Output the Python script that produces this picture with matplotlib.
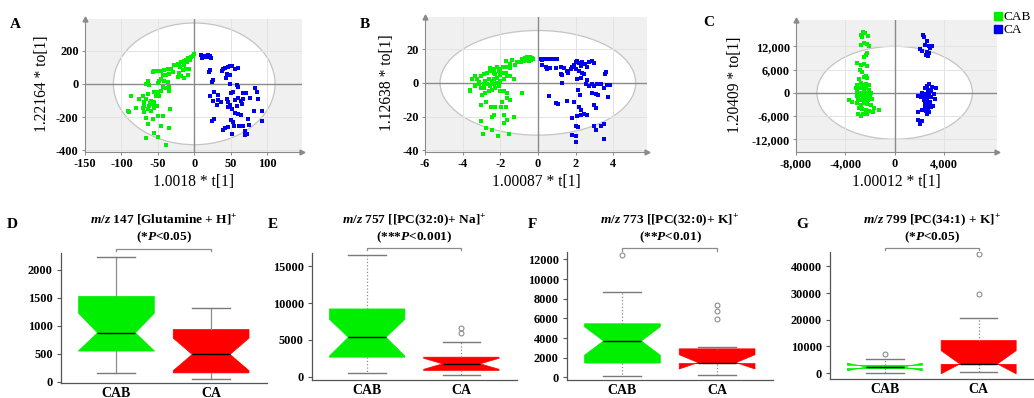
import numpy as np
import matplotlib
matplotlib.use('Agg')
import matplotlib.pyplot as plt
from matplotlib.patches import Ellipse
from matplotlib.lines import Line2D
from matplotlib.ticker import FuncFormatter

plt.rcParams['font.family'] = ['Liberation Serif', 'DejaVu Serif']
plt.rcParams['font.weight'] = 'bold'
plt.rcParams['axes.unicode_minus'] = False
plt.rcParams['mathtext.fontset'] = 'custom'
plt.rcParams['mathtext.rm'] = 'Liberation Serif:bold'
plt.rcParams['mathtext.it'] = 'Liberation Serif:italic:bold'
plt.rcParams['mathtext.bf'] = 'Liberation Serif:bold'

GREEN = '#00ee00'
BLUE = '#0000ee'
RED = '#ff0000'

# ---- score plots (t[1], to[1]) ----
a_cab = np.array([
    (0, 177), (-2.3, 169), (-4.6, 163), (-6.9, 157), (-9.2, 153), (-11.5, 143), (-13.7, 137),
    (-16, 133), (-18.3, 129), (-20.6, 122), (-22.9, 118), (-25.2, 116), (-27.5, 112), (-5.5, 143),
    (-10, 129), (-14.7, 112), (-19.2, 102), (-11.5, 92), (-6.9, 88), (-16, 82), (-20.6, 67),
    (-18.3, 47), (-13.7, 35), (-22.9, 41), (-9.2, 55), (-32, 92), (-36.6, 88), (-41.2, 82),
    (-45.8, 75), (-50.4, 75), (-55, 75), (-57.3, 71), (-43.5, 51), (-39, 55), (-34.4, 61),
    (-29.8, 71), (-45.8, 31), (-48, 20), (-41.2, 20), (-36.6, 10), (-50.4, 6), (-64, 20),
    (-66.4, 0), (-61.8, -10), (-43.5, -20), (-45.8, -41), (-39, -27), (-34.4, -20), (-34.4, -41),
    (-50.4, -47), (-55, -51), (-52.7, -71), (-48, -71), (-64, -61), (-71, -75), (-66.4, -92),
    (-59.5, -102), (-57.3, -122), (-61.8, -133), (-68.7, -133), (-71, -143), (-64, -153),
    (-55, -143), (-59.5, -163), (-68.7, -169), (-87, -71), (-80, -143), (-91.6, -163),
    (-89.3, -169), (-50.4, -194), (-43.5, -194), (-66.4, -204), (-57.3, -214), (-64, -239),
    (-45.8, -251), (-34.4, -265), (-55, -296), (-50.4, -320), (-66.4, -326), (-39, -367),
    (-33, -153), (-75.6, -92), (-51.3, -133), (-55.9, -108), (-60.5, -116), (-68.7, -112)])
a_ca = np.array([
    (9.2, 173), (12.4, 169), (15.6, 167), (19.2, 163), (22.9, 157), (10.1, 157), (14.7, 161),
    (18.3, 173), (21.5, 165), (21.5, 82), (20.2, 71), (26.1, 24), (23.8, 10), (27.5, -51),
    (21.5, -71), (26.1, -102), (30.7, -129), (27.5, -214), (24.7, -224), (39.8, 92), (42.1, 96),
    (45.8, 102), (49, 108), (52.2, 106), (55.9, 92), (59.5, 96), (38.5, 75), (44.4, 61), (49, 55),
    (43, 35), (49, 0), (58.2, -6), (60.5, -20), (53.6, -47), (50.4, -55), (67.3, -55), (70.5, -55),
    (83.4, -27), (85.6, -51), (76.5, -88), (87, -92), (33, -67), (32, -96), (36.6, -112),
    (30.7, -126), (44.4, -92), (46.7, -112), (49, -129), (51.3, -149), (45.8, -137), (55.9, -96),
    (59.5, -88), (64.1, -102), (67.3, -92), (65, -122), (58.2, -133), (55.9, -173), (60.5, -184),
    (64.1, -186), (74.2, -210), (82.4, -163), (93.4, -163), (93.4, -224), (50.4, -218),
    (53.6, -231), (55, -251), (61.4, -251), (67.3, -255), (75.1, -245), (69.6, -286),
    (71.9, -300), (42.1, -265), (39.8, -280), (46.7, -259), (52.2, -300), (69.6, -306)])

b_cab = np.array([
    (-0.83, 14.1), (-0.71, 14.7), (-0.57, 15.2), (-0.43, 15.2), (-0.30, 14.7), (-0.25, 14.1),
    (-0.60, 13.5), (-0.48, 13.1), (-0.75, 12.7), (-0.89, 12.1), (-0.39, 13.7), (-0.66, 14.1),
    (-1.10, 12.1), (-1.19, 10.7), (-1.46, 11.1), (-1.72, 13.1), (-1.37, 13.5), (-1.63, 9.5),
    (-1.46, 8.7), (-1.85, 9.1), (-2.02, 8.1), (-2.17, 9.1), (-2.34, 8.1), (-2.56, 8.7),
    (-2.70, 6.1), (-2.84, 5.1), (-3.02, 4.0), (-3.32, 4.0), (-3.50, 2.0), (-3.59, -4.0),
    (-3.62, -5.1), (-2.52, 7.1), (-2.34, 6.1), (-2.26, 5.1), (-2.08, 7.1), (-1.90, 6.1),
    (-1.99, 4.6), (-1.72, 6.1), (-1.63, 4.0), (-1.46, 4.0), (-1.28, 2.0), (-2.17, 3.0),
    (-2.34, 2.0), (-2.43, 1.0), (-2.61, 2.0), (-2.79, 1.0), (-2.88, -0.6), (-2.70, -1.0),
    (-2.52, -2.0), (-2.34, -1.0), (-2.17, 0.0), (-1.99, 1.0), (-1.81, 2.0), (-2.08, -2.0),
    (-2.26, -3.0), (-2.43, -4.0), (-2.61, -5.1), (-2.79, -6.1), (-2.97, -7.1), (-2.88, -3.0),
    (-3.05, -3.0), (-3.14, 0.6), (-3.23, 2.0), (-3.32, -2.0), (-1.81, -5.1), (-1.63, -6.1),
    (-1.99, -4.6), (-1.46, -10.1), (-0.83, -6.1), (-1.63, -9.1), (-3.02, -13.1), (-2.74, -11.5),
    (-2.49, -14.1), (-2.26, -14.1), (-1.90, -11.1), (-1.72, -14.1), (-1.95, -14.1),
    (-2.34, -19.2), (-2.43, -20.2), (-1.81, -19.2), (-1.63, -22.2), (-1.28, -20.2),
    (-1.81, -23.6), (-3.05, -22.8), (-2.74, -26.9), (-2.43, -27.7), (-2.91, -30.3),
    (-2.13, -31.7), (-1.55, -30.3), (-3.14, -1.0)])
b_ca = np.array([
    (0.14, 14.1), (0.28, 14.3), (0.43, 14.3), (0.57, 14.1), (0.71, 14.1), (0.85, 13.9),
    (0.99, 13.9), (0.23, 13.5), (0.23, 10.7), (0.41, 9.1), (0.50, 8.1), (0.67, 8.7), (0.94, 8.7),
    (1.21, 9.5), (1.39, 8.7), (1.53, 7.1), (1.60, 6.1), (1.74, 8.1), (1.83, 9.5), (1.92, 10.7),
    (2.01, 12.1), (2.10, 13.1), (2.18, 11.5), (2.27, 10.1), (2.36, 12.1), (2.49, 11.1),
    (2.59, 9.5), (2.72, 12.1), (2.89, 12.7), (2.98, 11.5), (2.01, 8.1), (2.18, 7.1), (2.36, 6.1),
    (2.45, 5.1), (1.21, 5.5), (1.30, 4.6), (2.10, 2.0), (2.27, 3.0), (2.63, 1.4), (2.54, -0.6),
    (2.72, -2.0), (2.89, -0.6), (2.98, -2.0), (3.16, -0.6), (3.34, -1.0), (3.52, -3.0),
    (3.66, -1.4), (3.84, -1.4), (3.55, 5.5), (3.61, 6.7), (1.30, 0.0), (0.59, -8.1),
    (0.94, -12.1), (1.07, -12.7), (1.53, -10.7), (1.92, -11.1), (2.13, -4.0), (2.24, -7.1),
    (2.89, -6.1), (3.07, -6.7), (3.20, -7.1), (3.73, -8.7), (2.98, -13.1), (3.07, -15.2),
    (2.18, -14.1), (2.27, -16.2), (2.31, -19.2), (2.45, -18.2), (2.63, -19.2), (2.10, -19.6),
    (1.83, -20.8), (2.01, -25.3), (2.13, -26.3), (2.98, -25.3), (3.07, -27.7), (3.34, -25.3),
    (3.52, -24.2), (1.83, -30.9), (2.01, -31.7), (2.01, -34.9), (3.52, -33.3)])

c_cab = np.array([
    (-2539, 15811), (-2429, 15379), (-2705, 14947), (-2153, 14688), (-2622, 14515),
    (-2484, 12787), (-2760, 12355), (-2263, 12614), (-2070, 12096), (-2208, 10368),
    (-2346, 9763), (-2484, 9158), (-3036, 7603), (-2705, 7171), (-2484, 7430), (-2263, 6912),
    (-2815, 5875), (-2622, 5443), (-2346, 4320), (-2208, 3715), (-2484, 3974), (-2898, 3456),
    (-2760, 2419), (-3036, 1987), (-2622, 1987), (-2346, 2246), (-2070, 1987), (-3174, 1123),
    (-2898, 1123), (-2622, 1123), (-2346, 1123), (-2070, 691), (-3036, 259), (-2760, 0),
    (-2484, 259), (-2208, 0), (-1932, -173), (-3091, -864), (-2815, -605), (-2539, -864),
    (-2263, -1037), (-1987, -864), (-3726, -1901), (-3450, -2333), (-2981, -1728),
    (-2705, -1901), (-2429, -1728), (-2153, -1901), (-1877, -1728), (-3036, -2765),
    (-2760, -3197), (-2484, -2765), (-2208, -2938), (-1932, -3197), (-1656, -4061),
    (-1242, -4493), (-2898, -4061), (-2622, -4320), (-2346, -4493), (-2070, -4666),
    (-1794, -4925), (-2981, -5357), (-2539, -5530), (-2208, -5357), (-2760, -6048)])
c_ca = np.array([
    (2263, 14947), (2346, 14342), (2622, 13478), (2484, 12355), (2760, 12096), (3036, 12096),
    (2898, 11491), (2070, 11232), (2208, 10886), (2622, 10627), (2815, 10195), (2539, 9763),
    (2705, 9504), (2815, 2246), (2622, 1728), (3036, 1555), (3367, 1123), (2429, 1123),
    (2705, 691), (2981, 518), (2208, 0), (2484, -346), (2760, -173), (3174, -346),
    (1877, -864), (2153, -1037), (2429, -1210), (2705, -1210), (2981, -1037), (3312, -1728),
    (2346, -1901), (2622, -2074), (2898, -2333), (2484, -2765), (2760, -3197), (3091, -3456),
    (2429, -3802), (2705, -4061), (2981, -3802), (2208, -4493), (2539, -4666), (2815, -4925),
    (1932, -4925), (2622, -5530), (1932, -7085), (2208, -7258), (2070, -7949)])

# ---- box plot summaries (CAB, CA) ----
groups = ['CAB', 'CA']
box_stats = {
    'D': [dict(med=875, q1=550, q3=1525, whislo=160, whishi=2230, cilo=555, cihi=1225, fliers=[]),
          dict(med=490, q1=160, q3=935, whislo=60, whishi=1310, cilo=200, cihi=780, fliers=[])],
    'E': [dict(med=5350, q1=2650, q3=9200, whislo=500, whishi=16500, cilo=2800, cihi=7800, fliers=[]),
          dict(med=1750, q1=850, q3=2650, whislo=230, whishi=4700, cilo=1000, cihi=2500, fliers=[5900, 6600])],
    'F': [dict(med=3700, q1=1450, q3=5450, whislo=130, whishi=8700, cilo=2250, cihi=5150, fliers=[12400]),
          dict(med=1500, q1=1400, q3=2900, whislo=230, whishi=3100, cilo=850, cihi=2300, fliers=[5900, 6750, 7350])],
    'G': [dict(med=2250, q1=1700, q3=2900, whislo=150, whishi=5250, cilo=850, cihi=3700, fliers=[7300]),
          dict(med=3400, q1=3250, q3=12200, whislo=400, whishi=20600, cilo=-300, cihi=8400, fliers=[29800, 44500])],
}
box_titles = {
    'D': (r'$\mathit{m/z}$ 147 [Glutamine + H]$^{+}$', r'(*$\mathit{P}$<0.05)'),
    'E': (r'$\mathit{m/z}$ 757 [[PC(32:0)+ Na]$^{+}$', r'(***$\mathit{P}$<0.001)'),
    'F': (r'$\mathit{m/z}$ 773 [[PC(32:0)+ K]$^{+}$', r'(**$\mathit{P}$<0.01)'),
    'G': (r'$\mathit{m/z}$ 799 [PC(34:1) + K]$^{+}$', r'(*$\mathit{P}$<0.05)'),
}

W, H = 1034, 398
fig = plt.figure(figsize=(W / 100, H / 100), dpi=100)


def rect(l, t, r, b):
    return [l / W, 1 - b / H, (r - l) / W, (b - t) / H]


def score_plot(r, cab, ca, xlim, ylim, xticks, yticks, ell, xlab, ylab, ylab_x, comma=False):
    ax = fig.add_axes(r)
    ax.set_facecolor('#f0f0f0')
    ax.add_patch(Ellipse((0, 0), 2 * ell[0], 2 * ell[1], fc='white', ec='#c4c4c4', lw=0.9, zorder=0))
    for t in xticks:
        ax.axvline(t, color='#e3e3e3', lw=0.7, zorder=1)
    for t in yticks:
        ax.axhline(t, color='#e3e3e3', lw=0.7, zorder=1)
    ax.axvline(0, color='#8a8a8a', lw=1.0, zorder=2)
    ax.axhline(0, color='#8a8a8a', lw=1.0, zorder=2)
    ax.plot(cab[:, 0], cab[:, 1], 's', color=GREEN, ms=2.3, mew=0, zorder=3)
    ax.plot(ca[:, 0], ca[:, 1], 's', color=BLUE, ms=2.3, mew=0, zorder=3)
    ax.set_xlim(xlim)
    ax.set_ylim(ylim)
    ax.set_xticks(xticks)
    ax.set_yticks(yticks)
    if comma:
        f = FuncFormatter(lambda v, p: f'{v:,.0f}')
        ax.xaxis.set_major_formatter(f)
        ax.yaxis.set_major_formatter(f)
    for s in ['top', 'right']:
        ax.spines[s].set_visible(False)
    for s in ['left', 'bottom']:
        ax.spines[s].set_color('#8a8a8a')
    ax.plot(0, 1, '^', color='#8a8a8a', ms=3.5, transform=ax.transAxes, clip_on=False)
    ax.plot(1, 0, '>', color='#8a8a8a', ms=3.5, transform=ax.transAxes, clip_on=False)
    ax.tick_params(length=2.5, width=0.7, color='#8a8a8a', labelsize=8.8, pad=2)
    ax.set_xlabel(xlab, fontsize=11.2, va='center')
    ax.set_ylabel(ylab, fontsize=11.2, va='center', ha='center')
    ax.xaxis.set_label_coords(0.5, -0.225)
    ax.yaxis.set_label_coords(ylab_x, 0.51)
    return ax


score_plot(rect(85, 19, 302, 152), a_cab, a_ca, (-150, 148), (-410, 390),
           [-150, -100, -50, 0, 50, 100], [-400, -200, 0, 200], (111, 366),
           '1.0018 * t[1]', '1.22164 * to[1]', -0.2)
score_plot(rect(425, 17, 647, 152), b_cab, b_ca, (-6, 5.8), (-41, 39),
           [-6, -4, -2, 0, 2, 4], [-40, -20, 0, 20], (5.2, 31),
           '1.00087 * t[1]', '1.12638 * to[1]', -0.173)
axc = score_plot(rect(796, 20, 997, 152), c_cab, c_ca, (-8000, 8300), (-15300, 18800),
                 [-8000, -4000, 0, 4000], [-12000, -6000, 0, 6000, 12000], (6300, 12000),
                 '1.00012 * t[1]', '1.20409 * to[1]', -0.303, comma=True)

handles = [Line2D([], [], marker='s', ls='', color=GREEN, ms=5.5),
           Line2D([], [], marker='s', ls='', color=BLUE, ms=5.5)]
fig.legend(handles, groups, loc='upper left', bbox_to_anchor=(995 / W, 1 - 11 / H),
           frameon=False, handlelength=0.5, handletextpad=0.15, labelspacing=0.05,
           borderpad=0, borderaxespad=0, prop={'family': 'Liberation Serif', 'weight': 'normal', 'size': 9.5})

for letter, (x, y) in {'A': (15, 25), 'B': (365, 25), 'C': (709, 23)}.items():
    fig.text(x / W, 1 - y / H, letter, fontsize=11, ha='center', va='center')

# ---- box plots ----
box_axes = {
    'D': (rect(61, 253, 267, 383), (-20, 2300), [0, 500, 1000, 1500, 2000], 2370, 2330, 'solid'),
    'E': (rect(312, 253, 517, 380), (-450, 16800), [0, 5000, 10000, 15000], 17490, 17150, 'dotted'),
    'F': (rect(567, 252, 773, 380), (-270, 12750), [0, 2000, 4000, 6000, 8000, 10000, 12000], 13160, 12900, 'dotted'),
    'G': (rect(830, 252, 1034, 379), (-2240, 45400), [0, 10000, 20000, 30000, 40000], 47000, 46100, 'dotted'),
}
letter_pos = {'D': (12, 225), 'E': (273, 225), 'F': (532, 225), 'G': (802, 225)}

for key, (r, ylim, yt, br_top, br_bot, wls) in box_axes.items():
    ax = fig.add_axes(r)
    stats = box_stats[key]
    bp = ax.bxp(stats, positions=[1, 2], widths=0.8, shownotches=True, patch_artist=True,
                showfliers=True,
                medianprops=dict(color='black', lw=1.0),
                whiskerprops=dict(color='#8c8c8c', lw=0.9, ls=wls),
                capprops=dict(color='#7a7a7a', lw=1.0),
                flierprops=dict(marker='o', mfc='none', mec='#8c8c8c', ms=3.5, mew=0.8))
    for patch, col in zip(bp['boxes'], [GREEN, RED]):
        patch.set_facecolor(col)
        patch.set_edgecolor(col)
        patch.set_linewidth(0.5)
    ax.set_xlim(0.415, 2.59)
    ax.set_ylim(ylim)
    ax.set_yticks(yt)
    ax.set_xticks([1, 2])
    ax.set_xticklabels(groups)
    for s in ['top', 'right']:
        ax.spines[s].set_visible(False)
    for s in ['left', 'bottom']:
        ax.spines[s].set_color('#555555')
        ax.spines[s].set_linewidth(0.9)
    ax.tick_params(axis='y', length=3, width=0.8, color='#555555', labelsize=8.8, pad=3)
    ax.tick_params(axis='x', length=0, labelsize=10, pad=3)
    ax.plot([1, 1, 2, 2], [br_bot, br_top, br_top, br_bot], color='#8c8c8c', lw=0.9, clip_on=False)
    cx = (r[0] + r[2] / 2)
    t1, t2 = box_titles[key]
    fig.text(cx, 1 - 223 / H, t1, fontsize=9.6, ha='center', va='baseline')
    fig.text(cx, 1 - 240 / H, t2, fontsize=9.6, ha='center', va='baseline')
    lx, ly = letter_pos[key]
    fig.text(lx / W, 1 - ly / H, key, fontsize=11, ha='center', va='center')

fig.savefig('out.png', dpi=100)
